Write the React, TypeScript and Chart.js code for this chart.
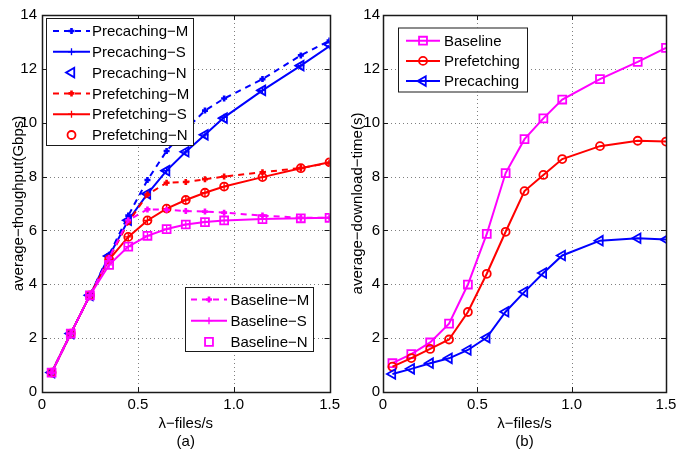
import React, { useEffect, useRef } from 'react';
import { Chart, registerables } from 'chart.js';
import { drawPoint } from 'chart.js/helpers';

Chart.register(...registerables);

// ---------- data ----------
const lambdas = [0.05, 0.15, 0.25, 0.35, 0.45, 0.55, 0.65, 0.75, 0.85, 0.95, 1.15, 1.35, 1.5];

// (a) average throughput (Gbps)
const precachingM = [0.72, 2.17, 3.59, 5.1, 6.55, 7.87, 8.95, 9.75, 10.45, 10.9, 11.62, 12.5, 13.05];
const precachingS = [0.72, 2.17, 3.59, 5.05, 6.38, 7.36, 8.22, 8.92, 9.55, 10.2, 11.2, 12.12, 12.85];
const precachingN = [0.72, 2.17, 3.59, 5.05, 6.38, 7.36, 8.22, 8.92, 9.55, 10.17, 11.2, 12.12, 12.9];
const prefetchingM = [0.72, 2.17, 3.59, 4.95, 6.3, 7.33, 7.77, 7.8, 7.9, 8.0, 8.16, 8.32, 8.5];
const prefetchingS = [0.72, 2.17, 3.59, 4.92, 5.76, 6.37, 6.81, 7.13, 7.4, 7.63, 7.98, 8.31, 8.53];
const prefetchingN = [0.72, 2.17, 3.59, 4.92, 5.76, 6.37, 6.81, 7.13, 7.4, 7.63, 7.98, 8.31, 8.53];
const baselineM = [0.72, 2.17, 3.59, 4.98, 6.38, 6.78, 6.77, 6.72, 6.7, 6.66, 6.55, 6.47, 6.47];
const baselineS = [0.72, 2.17, 3.59, 4.72, 5.4, 5.8, 6.05, 6.22, 6.31, 6.37, 6.42, 6.45, 6.47];
const baselineN = [0.72, 2.17, 3.59, 4.72, 5.4, 5.8, 6.05, 6.22, 6.31, 6.37, 6.42, 6.45, 6.47];

// (b) average download time (s)
const baselineT = [1.07, 1.41, 1.84, 2.54, 3.99, 5.87, 8.13, 9.39, 10.16, 10.86, 11.62, 12.26, 12.78];
const prefetchingT = [0.94, 1.26, 1.6, 1.95, 2.97, 4.39, 5.95, 7.46, 8.06, 8.65, 9.13, 9.33, 9.3];
const precachingT = [0.67, 0.86, 1.07, 1.25, 1.56, 2.02, 2.98, 3.72, 4.42, 5.07, 5.62, 5.71, 5.66];

const xTicks = [0, 0.5, 1, 1.5];
const yTicks = [0, 2, 4, 6, 8, 10, 12, 14];

const xTitleA = ['λ−files/s', '(a)'];
const xTitleB = ['λ−files/s', '(b)'];
const yTitleA = 'average−thoughput(Gbps)';
const yTitleB = 'average−download−time(s)';

// ---------- styles ----------
const BLUE = '#0000ff';
const RED = '#ff0000';
const MAG = '#ff00ff';
const FAMILY = "'Liberation Sans', Arial, Helvetica, sans-serif";
const FS = 15;

const pts = (ys: number[]) => ys.map((y, i) => ({ x: lambdas[i], y }));

type Kind = 'M' | 'S' | 'N' | 'sq' | 'ci' | 'tri';

function ds(label: string, ys: number[], color: string, kind: Kind, order: number) {
  const base: any = {
    label,
    data: pts(ys),
    borderColor: color,
    pointBorderColor: color,
    pointBackgroundColor: 'rgba(0,0,0,0)',
    borderWidth: 2,
    tension: 0,
    order,
  };
  if (kind === 'M') {
    Object.assign(base, { borderDash: [6, 5], pointStyle: 'cross', pointRadius: 3, pointBorderWidth: 2.6 });
  } else if (kind === 'S') {
    Object.assign(base, { pointStyle: 'cross', pointRadius: 3.5, pointBorderWidth: 1.3 });
  } else if (kind === 'N') {
    Object.assign(base, { showLine: false });
  }
  if (kind === 'N' || kind === 'sq' || kind === 'ci' || kind === 'tri') {
    base.pointBorderWidth = 1.8;
  }
  return base;
}

function marker(d: any, style: string) {
  if (style === 'tri') Object.assign(d, { pointStyle: 'triangle', pointRotation: -90, pointRadius: 5.5 });
  if (style === 'sq') Object.assign(d, { pointStyle: 'rect', pointRadius: 5.6 });
  if (style === 'ci') Object.assign(d, { pointStyle: 'circle', pointRadius: 4 });
  return d;
}

// ---------- plugins ----------
const gridFrame = {
  id: 'gridFrame',
  beforeDatasetsDraw(chart: any) {
    const { ctx, chartArea: a, scales } = chart;
    ctx.save();
    ctx.strokeStyle = 'rgba(0,0,0,0.5)';
    ctx.lineWidth = 1;
    ctx.setLineDash([1, 3]);
    for (const v of xTicks) {
      if (v === scales.x.min || v === scales.x.max) continue;
      const px = Math.round(scales.x.getPixelForValue(v)) + 0.5;
      ctx.beginPath(); ctx.moveTo(px, a.top); ctx.lineTo(px, a.bottom); ctx.stroke();
    }
    for (const v of yTicks) {
      if (v === scales.y.min || v === scales.y.max) continue;
      const py = Math.round(scales.y.getPixelForValue(v)) + 0.5;
      ctx.beginPath(); ctx.moveTo(a.left, py); ctx.lineTo(a.right, py); ctx.stroke();
    }
    ctx.restore();
  },
  afterDraw(chart: any) {
    const { ctx, chartArea: a, scales } = chart;
    ctx.save();
    ctx.strokeStyle = '#1a1a1a';
    ctx.lineWidth = 1.5;
    ctx.setLineDash([]);
    ctx.strokeRect(Math.round(a.left) + 0.5, Math.round(a.top) + 0.5, Math.round(a.right - a.left), Math.round(a.bottom - a.top));
    ctx.lineWidth = 1;
    const L = 5;
    for (const v of xTicks) {
      const px = Math.round(scales.x.getPixelForValue(v)) + 0.5;
      ctx.beginPath();
      ctx.moveTo(px, a.bottom); ctx.lineTo(px, a.bottom - L);
      ctx.moveTo(px, a.top); ctx.lineTo(px, a.top + L);
      ctx.stroke();
    }
    for (const v of yTicks) {
      const py = Math.round(scales.y.getPixelForValue(v)) + 0.5;
      ctx.beginPath();
      ctx.moveTo(a.left, py); ctx.lineTo(a.left + L, py);
      ctx.moveTo(a.right, py); ctx.lineTo(a.right - L, py);
      ctx.stroke();
    }
    ctx.restore();
  },
};

const boxLegend = {
  id: 'boxLegend',
  afterDraw(chart: any, _args: any, opts: any) {
    const ctx = chart.ctx;
    for (const b of opts.boxes || []) {
      ctx.save();
      ctx.fillStyle = '#ffffff';
      ctx.fillRect(b.x, b.y, b.w, b.h);
      ctx.strokeStyle = '#1a1a1a';
      ctx.lineWidth = 1;
      ctx.setLineDash([]);
      ctx.strokeRect(b.x + 0.5, b.y + 0.5, b.w, b.h);
      b.rows.forEach((di: number, i: number) => {
        const d: any = chart.data.datasets[di];
        const y = b.rowY + i * b.rowStep;
        const cx = (b.lx0 + b.lx1) / 2;
        if (d.showLine !== false) {
          ctx.strokeStyle = d.borderColor;
          ctx.lineWidth = d.borderWidth;
          ctx.setLineDash(d.borderDash || []);
          ctx.beginPath(); ctx.moveTo(b.lx0, y); ctx.lineTo(b.lx1, y); ctx.stroke();
        }
        ctx.setLineDash([]);
        ctx.strokeStyle = d.pointBorderColor;
        ctx.fillStyle = d.pointBackgroundColor;
        ctx.lineWidth = d.pointBorderWidth;
        drawPoint(ctx, {
          pointStyle: d.pointStyle,
          rotation: d.pointRotation || 0,
          radius: d.pointRadius,
          borderWidth: d.pointBorderWidth,
        } as any, cx, y);
        ctx.fillStyle = '#000';
        ctx.font = `${FS}px ${FAMILY}`;
        ctx.textBaseline = 'middle';
        ctx.textAlign = 'left';
        ctx.fillText(d.label, b.tx, y + 1);
      });
      ctx.restore();
    }
  },
};

function makeOptions(xTitle: string[], yTitle: string, pad: any, yWidth: number, yTickPad: number, yTitlePad: number, boxes: any[]): any {
  const font = { family: FAMILY, size: FS, lineHeight: 1.2 };
  return {
    responsive: false,
    animation: false,
    layout: { padding: pad },
    plugins: {
      legend: { display: false },
      tooltip: { enabled: false },
      boxLegend: { boxes },
    },
    scales: {
      x: {
        type: 'linear',
        min: 0,
        max: 1.5,
        afterBuildTicks: (s: any) => { s.ticks = xTicks.map((v) => ({ value: v })); },
        ticks: { font, color: '#000', padding: 4, maxRotation: 0 },
        grid: { display: false, drawTicks: false },
        border: { display: false },
        title: { display: true, text: xTitle, font, color: '#000', padding: { top: 0, bottom: 3 } },
        afterFit: (s: any) => { s.height = 62; },
      },
      y: {
        type: 'linear',
        min: 0,
        max: 14,
        afterBuildTicks: (s: any) => { s.ticks = yTicks.map((v) => ({ value: v })); },
        ticks: { font, color: '#000', padding: yTickPad },
        grid: { display: false, drawTicks: false },
        border: { display: false },
        title: { display: true, text: yTitle, font, color: '#000', padding: { top: yTitlePad, bottom: 0 } },
        afterFit: (s: any) => { s.width = yWidth; },
      },
    },
  };
}

function buildLeft(): any {
  const datasets = [
    ds('Precaching−M', precachingM, BLUE, 'M', 9),
    ds('Precaching−S', precachingS, BLUE, 'S', 8),
    marker(ds('Precaching−N', precachingN, BLUE, 'N', 7), 'tri'),
    ds('Prefetching−M', prefetchingM, RED, 'M', 6),
    ds('Prefetching−S', prefetchingS, RED, 'S', 5),
    marker(ds('Prefetching−N', prefetchingN, RED, 'N', 4), 'ci'),
    ds('Baseline−M', baselineM, MAG, 'M', 3),
    ds('Baseline−S', baselineS, MAG, 'S', 2),
    marker(ds('Baseline−N', baselineN, MAG, 'N', 1), 'sq'),
  ];
  const boxes = [
    { x: 46, y: 18, w: 147, h: 127, rows: [0, 1, 2, 3, 4, 5], rowY: 31, rowStep: 20.8, lx0: 53, lx1: 90, tx: 92 },
    { x: 185, y: 287, w: 128, h: 64, rows: [6, 7, 8], rowY: 299.5, rowStep: 21.2, lx0: 191, lx1: 227, tx: 230.5 },
  ];
  return {
    type: 'line',
    data: { datasets },
    options: makeOptions(xTitleA, yTitleA, { top: 15, right: 14, left: 0, bottom: 0 }, 42, 5, 10, boxes),
    plugins: [gridFrame, boxLegend],
  };
}

function buildRight(): any {
  const datasets = [
    marker(ds('Baseline', baselineT, MAG, 'sq', 3), 'sq'),
    marker(ds('Prefetching', prefetchingT, RED, 'ci', 2), 'ci'),
    marker(ds('Precaching', precachingT, BLUE, 'tri', 1), 'tri'),
  ];
  const boxes = [
    { x: 54, y: 27.5, w: 129, h: 64, rows: [0, 1, 2], rowY: 40.7, rowStep: 20.2, lx0: 62, lx1: 96, tx: 100 },
  ];
  return {
    type: 'line',
    data: { datasets },
    options: makeOptions(xTitleB, yTitleB, { top: 15, right: 23, left: 0, bottom: 0 }, 39, 3, 5, boxes),
    plugins: [gridFrame, boxLegend],
  };
}

function Panel({ left, width, build }: { left: number; width: number; build: () => any }) {
  const ref = useRef<HTMLCanvasElement | null>(null);
  useEffect(() => {
    if (!ref.current) return;
    const chart = new Chart(ref.current, build());
    return () => chart.destroy();
  }, []);
  return (
    <div style={{ position: 'absolute', left, top: 0, width, height: 454 }}>
      <canvas ref={ref} width={width} height={454} style={{ width, height: 454, display: 'block' }} />
    </div>
  );
}

export default function App() {
  return (
    <div style={{ position: 'absolute', left: 0, top: 0, width: 689, height: 454, background: '#fff' }}>
      <Panel left={0} width={344} build={buildLeft} />
      <Panel left={344} width={345} build={buildRight} />
    </div>
  );
}
